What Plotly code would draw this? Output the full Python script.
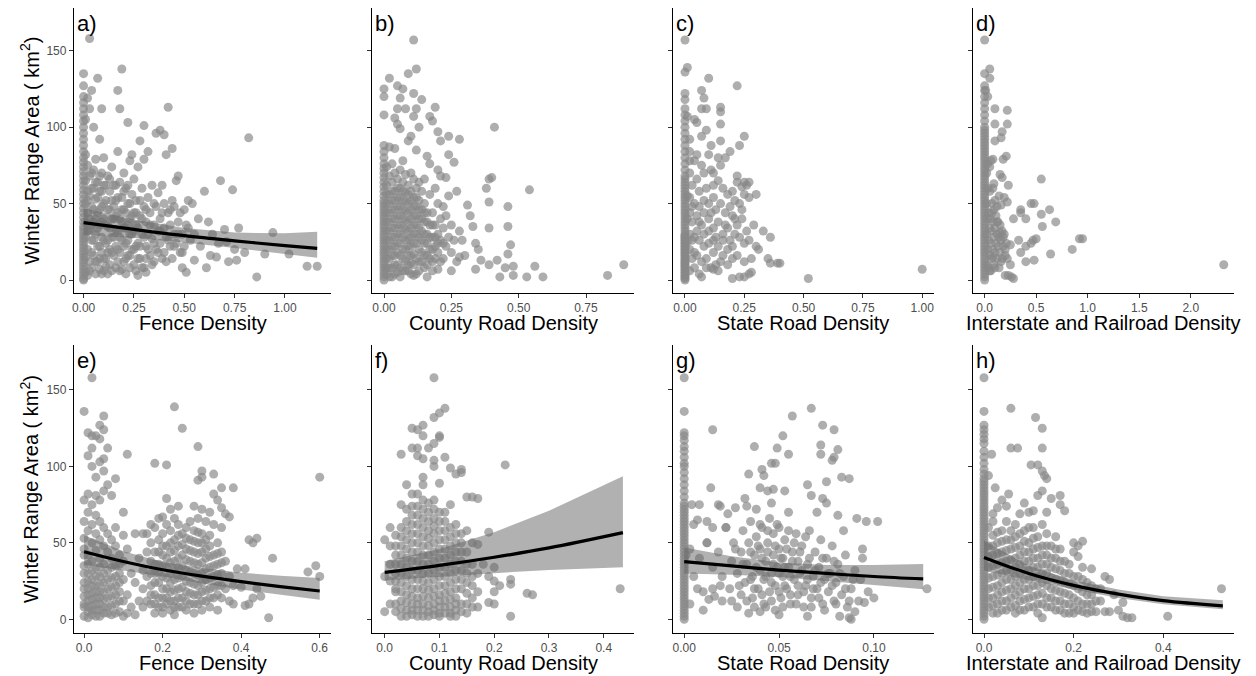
import plotly.graph_objects as go

W, H = 1256, 676
PAGE_OFFSET = 8  # the page body adds an 8 px margin around the figure
FONT = "Liberation Sans, Arial, sans-serif"

Y_TICKS = [0, 50, 100, 150]
Y_TITLE = "Winter Range Area ( km<sup>2</sup>)"
PANEL_LABELS = ["a)", "b)", "c)", "d)", "e)", "f)", "g)", "h)"]
X_TITLES = ["Fence Density", "County Road Density", "State Road Density",
            "Interstate and Railroad Density"] * 2

X_TICKVALS = [
    [0, 0.25, 0.5, 0.75, 1.0], [0, 0.25, 0.5, 0.75], [0, 0.25, 0.5, 0.75, 1.0], [0, 0.5, 1.0, 1.5, 2.0],
    [0, 0.2, 0.4, 0.6], [0, 0.1, 0.2, 0.3, 0.4], [0, 0.05, 0.10], [0, 0.2, 0.4],
]
X_TICKTEXT = [
    ["0.00", "0.25", "0.50", "0.75", "1.00"], ["0.00", "0.25", "0.50", "0.75"],
    ["0.00", "0.25", "0.50", "0.75", "1.00"], ["0.0", "0.5", "1.0", "1.5", "2.0"],
    ["0.0", "0.2", "0.4", "0.6"], ["0.0", "0.1", "0.2", "0.3", "0.4"], ["0.00", "0.05", "0.10"],
    ["0.0", "0.2", "0.4"],
]

# ---------------- Panel a : Fence Density ----------------
A_ZERO_Y = [0, 1, 3, 5, 7, 9, 11, 13, 15, 17, 19, 21, 23, 25, 27, 29, 31, 33, 35, 38, 41, 44, 47, 50,
            53, 56, 59, 62, 65, 68, 71, 74, 77, 80, 84, 88, 92, 96, 100, 104, 108, 112, 116, 120, 127, 135]
A_PTS = [
    (0.01, 5), (0.01, 15), (0.01, 28), (0.01, 38), (0.01, 50), (0.01, 65), (0.01, 82), (0.01, 105),
    (0.02, 3), (0.02, 20), (0.02, 44), (0.02, 58), (0.02, 75), (0.02, 119),
    (0.03, 158), (0.03, 12), (0.03, 33), (0.03, 68), (0.03, 112),
    (0.04, 124), (0.04, 8), (0.04, 26), (0.04, 48), (0.04, 60),
    (0.05, 100), (0.05, 16), (0.05, 38), (0.05, 72),
    (0.06, 4), (0.06, 30), (0.06, 53), (0.06, 79),
    (0.07, 132), (0.07, 12), (0.07, 44), (0.07, 64),
    (0.08, 92), (0.08, 22), (0.08, 36), (0.08, 58), (0.08, 7),
    (0.09, 112), (0.09, 28), (0.09, 48), (0.09, 70),
    (0.10, 80), (0.10, 14), (0.10, 40), (0.10, 62),
    (0.11, 24), (0.11, 52), (0.11, 9), (0.12, 35), (0.12, 68), (0.12, 18),
    (0.13, 46), (0.13, 10), (0.13, 58), (0.14, 28), (0.14, 74),
    (0.15, 40), (0.15, 16), (0.15, 62), (0.16, 22), (0.16, 52), (0.16, 33),
    (0.17, 124), (0.17, 84), (0.17, 44), (0.17, 12), (0.18, 112), (0.18, 64), (0.18, 28),
    (0.19, 138), (0.19, 38), (0.19, 54), (0.19, 7), (0.20, 22), (0.20, 70), (0.20, 46),
    (0.21, 14), (0.21, 34), (0.21, 60), (0.22, 103), (0.22, 26), (0.22, 50),
    (0.23, 40), (0.23, 78), (0.23, 16), (0.24, 82), (0.24, 30), (0.24, 56),
    (0.25, 20), (0.25, 44), (0.25, 66), (0.26, 6), (0.26, 36), (0.26, 52),
    (0.27, 3), (0.27, 24), (0.27, 74), (0.28, 91), (0.28, 42), (0.28, 14),
    (0.29, 30), (0.29, 60), (0.30, 101), (0.30, 79), (0.30, 8), (0.30, 48),
    (0.31, 5), (0.31, 22), (0.31, 38), (0.32, 84), (0.32, 54), (0.32, 30),
    (0.33, 16), (0.33, 44), (0.34, 27), (0.34, 62), (0.35, 36), (0.35, 12),
    (0.36, 96), (0.36, 20), (0.36, 48), (0.37, 32), (0.37, 57),
    (0.38, 98), (0.38, 24), (0.38, 40), (0.39, 14), (0.39, 62),
    (0.40, 95), (0.40, 18), (0.40, 34), (0.40, 50), (0.41, 82), (0.41, 28),
    (0.42, 113), (0.42, 44), (0.43, 22), (0.43, 36), (0.44, 86), (0.44, 52), (0.44, 14),
    (0.45, 30), (0.45, 48), (0.46, 65), (0.46, 24), (0.47, 68), (0.47, 38),
    (0.48, 18), (0.48, 44), (0.49, 8), (0.49, 30), (0.50, 46), (0.50, 22),
    (0.51, 5), (0.52, 52), (0.52, 34), (0.53, 26), (0.54, 50), (0.55, 13), (0.55, 30),
    (0.57, 40), (0.58, 22), (0.60, 58), (0.61, 8), (0.62, 38), (0.63, 16), (0.64, 30),
    (0.66, 15), (0.67, 24), (0.68, 65), (0.70, 33), (0.71, 25), (0.72, 12), (0.74, 59),
    (0.75, 20), (0.76, 13), (0.77, 34), (0.82, 93), (0.80, 18), (0.86, 2), (0.90, 17),
    (0.94, 31), (1.02, 17), (1.11, 9), (1.16, 9),
    (0.02, 32), (0.02, 52), (0.03, 6), (0.03, 40), (0.03, 55), (0.04, 18), (0.04, 36), (0.04, 70),
    (0.05, 26), (0.05, 46), (0.05, 60), (0.06, 12), (0.06, 40), (0.06, 64), (0.07, 22), (0.07, 34),
    (0.07, 54), (0.08, 14), (0.08, 46), (0.08, 68), (0.09, 4), (0.09, 18), (0.09, 38), (0.09, 58),
    (0.10, 6), (0.10, 26), (0.10, 50), (0.11, 14), (0.11, 36), (0.11, 62), (0.12, 4), (0.12, 26),
    (0.12, 46), (0.13, 20), (0.13, 34), (0.13, 66), (0.14, 6), (0.14, 18), (0.14, 40), (0.14, 52),
    (0.15, 28), (0.15, 48), (0.16, 8), (0.16, 42), (0.16, 62), (0.17, 20), (0.17, 32), (0.17, 54),
    (0.18, 6), (0.18, 18), (0.18, 40), (0.19, 26), (0.19, 46), (0.20, 12), (0.20, 34), (0.20, 58),
    (0.21, 4), (0.21, 24), (0.21, 44), (0.22, 16), (0.22, 36), (0.22, 62), (0.23, 8), (0.23, 30),
    (0.23, 50), (0.24, 20), (0.24, 42), (0.25, 10), (0.25, 32), (0.26, 22), (0.26, 44), (0.27, 14),
    (0.27, 34), (0.28, 22), (0.28, 52), (0.29, 8), (0.29, 40), (0.30, 28), (0.31, 14), (0.31, 46),
    (0.32, 20), (0.33, 36), (0.34, 10), (0.35, 24), (0.35, 50), (0.37, 18), (0.38, 32), (0.39, 44),
    (0.41, 12), (0.42, 26), (0.43, 46), (0.45, 22), (0.47, 30), (0.49, 18), (0.51, 36),
]
A_FIT_X = [0.0, 0.25, 0.5, 0.75, 1.0, 1.16]
A_FIT = [37.5, 33.1, 29.0, 25.6, 22.5, 20.7]
A_LO = [29.5, 27.5, 24.5, 21.0, 17.0, 14.5]
A_HI = [47.0, 39.5, 34.0, 31.0, 30.5, 31.5]

# ---------------- Panel b : County Road Density ----------------
B_ZERO_Y = [0, 2, 4, 6, 8, 10, 12, 14, 16, 18, 20, 22, 24, 26, 28, 30, 32, 34, 36, 38, 40, 42, 44, 46,
            48, 50, 52, 55, 58, 61, 64, 67, 70, 73, 76, 80, 84, 88, 108, 120, 125]
B_PTS = [
    (0.01, 4), (0.01, 14), (0.01, 26), (0.01, 38), (0.01, 50), (0.01, 62), (0.01, 74),
    (0.02, 8), (0.02, 20), (0.02, 32), (0.02, 44), (0.02, 56), (0.02, 68), (0.02, 87), (0.02, 132),
    (0.03, 2), (0.03, 16), (0.03, 28), (0.03, 40), (0.03, 52), (0.03, 64), (0.03, 76),
    (0.04, 10), (0.04, 22), (0.04, 34), (0.04, 46), (0.04, 58), (0.04, 70), (0.04, 86), (0.04, 106),
    (0.05, 5), (0.05, 18), (0.05, 30), (0.05, 42), (0.05, 54), (0.05, 66), (0.05, 102), (0.05, 112), (0.05, 127),
    (0.06, 8), (0.06, 24), (0.06, 36), (0.06, 48), (0.06, 60), (0.06, 72), (0.06, 99), (0.06, 119),
    (0.07, 14), (0.07, 28), (0.07, 40), (0.07, 52), (0.07, 64), (0.07, 78), (0.07, 125),
    (0.08, 6), (0.08, 20), (0.08, 33), (0.08, 45), (0.08, 57), (0.08, 69), (0.08, 112),
    (0.09, 6), (0.09, 16), (0.09, 27), (0.09, 38), (0.09, 50), (0.09, 62), (0.09, 91), (0.09, 135),
    (0.10, 11), (0.10, 22), (0.10, 34), (0.10, 46), (0.10, 58), (0.10, 70), (0.10, 94),
    (0.11, 3), (0.11, 17), (0.11, 30), (0.11, 42), (0.11, 54), (0.11, 66), (0.11, 107), (0.11, 122), (0.11, 157),
    (0.12, 4), (0.12, 24), (0.12, 36), (0.12, 48), (0.12, 60), (0.12, 85), (0.12, 112), (0.12, 138),
    (0.13, 12), (0.13, 28), (0.13, 40), (0.13, 52), (0.13, 64), (0.13, 100),
    (0.14, 18), (0.14, 32), (0.14, 46), (0.14, 58), (0.14, 118),
    (0.15, 8), (0.15, 24), (0.15, 38), (0.15, 50), (0.15, 66),
    (0.16, 2), (0.16, 16), (0.16, 30), (0.16, 44), (0.16, 81),
    (0.17, 20), (0.17, 36), (0.17, 56), (0.17, 76), (0.17, 107),
    (0.18, 12), (0.18, 28), (0.18, 44), (0.18, 104),
    (0.19, 22), (0.19, 36), (0.19, 60), (0.19, 113),
    (0.20, 7), (0.20, 18), (0.20, 30), (0.20, 50), (0.20, 72), (0.20, 97),
    (0.21, 26), (0.21, 40), (0.21, 68), (0.21, 91), (0.22, 14), (0.22, 34), (0.22, 48),
    (0.23, 22), (0.23, 42), (0.23, 67), (0.24, 28), (0.24, 55), (0.24, 82), (0.24, 94),
    (0.25, 6), (0.25, 18), (0.25, 36), (0.26, 26), (0.26, 77), (0.27, 12), (0.27, 58),
    (0.28, 15), (0.28, 32), (0.28, 92), (0.29, 26), (0.30, 16), (0.31, 49), (0.32, 42),
    (0.33, 35), (0.34, 24), (0.34, 7), (0.35, 20), (0.36, 13), (0.38, 60), (0.39, 66),
    (0.39, 51), (0.39, 34), (0.39, 10), (0.40, 67), (0.41, 100), (0.42, 13), (0.43, 2),
    (0.45, 8), (0.46, 48), (0.46, 35), (0.46, 17), (0.47, 23), (0.48, 9), (0.48, 3),
    (0.53, 2), (0.54, 59), (0.56, 9), (0.59, 2), (0.83, 3), (0.89, 10),
    (0.01, 8), (0.01, 20), (0.01, 32), (0.01, 44), (0.01, 56), (0.02, 2), (0.02, 14), (0.02, 26),
    (0.02, 38), (0.02, 50), (0.03, 8), (0.03, 22), (0.03, 34), (0.03, 46), (0.03, 58), (0.04, 4),
    (0.04, 16), (0.04, 28), (0.04, 40), (0.04, 52), (0.05, 10), (0.05, 24), (0.05, 36), (0.05, 48),
    (0.05, 60), (0.06, 2), (0.06, 16), (0.06, 30), (0.06, 42), (0.06, 54), (0.07, 6), (0.07, 20),
    (0.07, 34), (0.07, 46), (0.07, 58), (0.08, 12), (0.08, 26), (0.08, 39), (0.08, 51), (0.09, 10),
    (0.09, 22), (0.09, 32), (0.09, 44), (0.09, 56), (0.10, 4), (0.10, 16), (0.10, 28), (0.10, 40),
    (0.10, 52), (0.11, 10), (0.11, 24), (0.11, 36), (0.11, 48), (0.12, 14), (0.12, 30), (0.12, 42),
    (0.12, 54), (0.13, 6), (0.13, 20), (0.13, 34), (0.13, 46), (0.14, 12), (0.14, 26), (0.14, 40),
    (0.15, 16), (0.15, 30), (0.15, 44), (0.16, 10), (0.16, 24), (0.16, 38), (0.17, 14), (0.17, 28),
    (0.18, 6), (0.18, 20), (0.18, 36), (0.19, 14), (0.19, 28), (0.20, 24), (0.21, 12), (0.22, 24),
]

# ---------------- Panel c : State Road Density ----------------
C_ZERO_Y = [0, 1, 2, 3, 4, 5, 6, 7, 8, 9, 10, 11, 12, 13, 14, 15, 16, 17, 18, 19, 20, 21, 22, 23, 24,
            25, 26, 27, 28, 29, 30, 32, 34, 36, 38, 40, 42, 44, 46, 48, 50, 52, 54, 56, 58, 60, 62, 64,
            66, 68, 72, 76, 80, 84, 88, 92, 96, 100, 104, 108, 112, 118, 122, 136, 157]
C_PTS = [
    (0.01, 139), (0.10, 132), (0.22, 127), (0.07, 124), (0.08, 119), (0.07, 112), (0.09, 112),
    (0.15, 113), (0.15, 110), (0.01, 107), (0.04, 105), (0.05, 103), (0.15, 102), (0.09, 98),
    (0.07, 94), (0.25, 94), (0.15, 91), (0.11, 88), (0.23, 88), (0.02, 92),
    (0.02, 84), (0.05, 82), (0.10, 82), (0.14, 80), (0.17, 80), (0.19, 84), (0.02, 78), (0.04, 78),
    (0.07, 75), (0.11, 72), (0.15, 75), (0.08, 70), (0.12, 70), (0.22, 68), (0.26, 62), (0.22, 64),
    (0.25, 64), (0.27, 64), (0.24, 61), (0.30, 56), (0.25, 56), (0.27, 54),
    (0.02, 70), (0.03, 62), (0.05, 66), (0.06, 58), (0.09, 60), (0.12, 62), (0.14, 65), (0.16, 60),
    (0.18, 56), (0.20, 58), (0.21, 52), (0.23, 50), (0.19, 48), (0.24, 46),
    (0.02, 54), (0.04, 50), (0.06, 48), (0.08, 52), (0.10, 50), (0.12, 54), (0.13, 46), (0.15, 50),
    (0.17, 44), (0.20, 42), (0.22, 36), (0.24, 40), (0.26, 32), (0.29, 36),
    (0.02, 44), (0.03, 38), (0.05, 42), (0.07, 36), (0.08, 44), (0.10, 40), (0.12, 34), (0.14, 38),
    (0.16, 30), (0.18, 34), (0.21, 30), (0.23, 28), (0.25, 24), (0.27, 26), (0.30, 22), (0.33, 32),
    (0.36, 28), (0.02, 30), (0.04, 28), (0.06, 26), (0.08, 30), (0.10, 24), (0.12, 26), (0.14, 22),
    (0.16, 26), (0.18, 20), (0.20, 22), (0.22, 16), (0.25, 12), (0.28, 14), (0.31, 20), (0.35, 14),
    (0.36, 11), (0.39, 11), (0.40, 11), (0.02, 20), (0.03, 14), (0.05, 16), (0.07, 12), (0.09, 14),
    (0.11, 8), (0.13, 10), (0.15, 12), (0.18, 10), (0.02, 6), (0.04, 8), (0.06, 4), (0.07, 2),
    (0.12, 7), (0.20, 1), (0.23, 2), (0.25, 2), (0.27, 4), (0.28, 5), (0.52, 1), (1.0, 7),
    (0.01, 40), (0.01, 25), (0.01, 55), (0.03, 48), (0.03, 26), (0.04, 18), (0.05, 32), (0.06, 38),
    (0.08, 22), (0.09, 8), (0.10, 32), (0.11, 44), (0.12, 18), (0.13, 28), (0.14, 6), (0.16, 16),
    (0.17, 36), (0.19, 26), (0.20, 14), (0.21, 40),
]

# ---------------- Panel d : Interstate and Railroad Density ----------------
D_ZERO_Y = [0, 2, 4, 6, 8, 10, 12, 14, 16, 18, 20, 22, 24, 26, 28, 30, 32, 34, 36, 38, 40, 42, 44, 46,
            48, 50, 52, 54, 56, 58, 60, 62, 64, 66, 68, 70, 72, 74, 76, 78, 80, 82, 84, 86, 88, 90, 92,
            94, 96, 98, 100, 104, 108, 112, 116, 120, 124, 127, 135, 157]
D_PTS = [
    (0.05, 138), (0.05, 132), (0.01, 124), (0.03, 120), (0.10, 112), (0.22, 111), (0.10, 102),
    (0.22, 102), (0.17, 97), (0.16, 93), (0.10, 91), (0.21, 81), (0.18, 79), (0.08, 79), (0.03, 76),
    (0.06, 78), (0.05, 74), (0.15, 69), (0.17, 67), (0.09, 63), (0.23, 62), (0.55, 66), (0.08, 60),
    (0.14, 55), (0.19, 54), (0.05, 58), (0.10, 52), (0.22, 51), (0.12, 48), (0.16, 49), (0.45, 50),
    (0.48, 50), (0.35, 46), (0.63, 46), (0.35, 44), (0.55, 43), (0.28, 40), (0.40, 40), (0.69, 38),
    (0.56, 35), (0.10, 34), (0.15, 31), (0.18, 28), (0.50, 27), (0.47, 26), (0.33, 26), (0.92, 27),
    (0.95, 27), (0.25, 23), (0.40, 22), (0.45, 24), (0.85, 20), (0.35, 18), (0.20, 20), (0.64, 17),
    (0.48, 13), (0.40, 12), (0.22, 14), (0.25, 10), (2.32, 10), (0.20, 3), (0.23, 3), (0.26, 2),
    (0.28, 1), (0.05, 6), (0.08, 15), (0.12, 38), (0.13, 22), (0.07, 44), (0.10, 8), (0.16, 12),
    (0.02, 10), (0.02, 30), (0.02, 50), (0.02, 70), (0.03, 20), (0.03, 40), (0.03, 60), (0.04, 8),
    (0.04, 26), (0.04, 44), (0.05, 16), (0.05, 34), (0.06, 6), (0.06, 24), (0.06, 40), (0.07, 14),
    (0.07, 32), (0.07, 50), (0.08, 20), (0.08, 38), (0.09, 10), (0.09, 28), (0.09, 46), (0.10, 18),
    (0.11, 24), (0.11, 42), (0.12, 14), (0.12, 30), (0.13, 38), (0.14, 8), (0.14, 28), (0.15, 18),
    (0.15, 36), (0.16, 26), (0.17, 14), (0.17, 32), (0.18, 22), (0.19, 30), (0.20, 16), (0.21, 24),
]

# ---------------- Panel e : Fence Density ----------------
E_PTS = [
    (0.00, 2), (0.00, 8), (0.00, 15), (0.00, 24), (0.00, 35), (0.00, 46), (0.00, 53), (0.00, 64), (0.00, 78), (0.00, 136),
    (0.01, 1), (0.01, 5), (0.01, 12), (0.01, 20), (0.01, 30), (0.01, 42), (0.01, 58), (0.01, 70), (0.01, 82), (0.01, 107), (0.01, 122),
    (0.02, 3), (0.02, 9), (0.02, 17), (0.02, 26), (0.02, 38), (0.02, 50), (0.02, 62), (0.02, 75), (0.02, 100), (0.02, 112), (0.02, 120), (0.02, 158),
    (0.03, 6), (0.03, 14), (0.03, 22), (0.03, 33), (0.03, 45), (0.03, 56), (0.03, 68), (0.03, 81), (0.03, 93), (0.03, 120),
    (0.04, 2), (0.04, 10), (0.04, 18), (0.04, 28), (0.04, 40), (0.04, 52), (0.04, 64), (0.04, 78), (0.04, 103), (0.04, 118), (0.04, 127),
    (0.05, 4), (0.05, 13), (0.05, 24), (0.05, 36), (0.05, 48), (0.05, 60), (0.05, 84), (0.05, 97), (0.05, 105), (0.05, 124), (0.05, 133),
    (0.06, 8), (0.06, 20), (0.06, 32), (0.06, 44), (0.06, 56), (0.06, 88), (0.06, 112),
    (0.07, 3), (0.07, 15), (0.07, 27), (0.07, 40), (0.07, 52), (0.07, 81),
    (0.08, 10), (0.08, 22), (0.08, 35), (0.08, 48), (0.08, 92), (0.08, 60),
    (0.09, 5), (0.09, 18), (0.09, 30), (0.09, 42), (0.10, 2), (0.10, 12), (0.10, 26), (0.10, 38), (0.10, 70), (0.10, 55),
    (0.11, 4), (0.11, 16), (0.11, 108), (0.11, 46), (0.12, 8), (0.12, 30), (0.13, 3), (0.13, 24), (0.13, 56), (0.14, 40), (0.14, 12),
    (0.15, 8), (0.15, 20), (0.15, 32), (0.15, 56), (0.16, 12), (0.16, 28), (0.16, 44), (0.16, 56),
    (0.17, 10), (0.17, 22), (0.17, 38), (0.17, 50), (0.17, 62),
    (0.18, 4), (0.18, 16), (0.18, 30), (0.18, 44), (0.18, 60), (0.18, 102),
    (0.19, 8), (0.19, 24), (0.19, 36), (0.19, 52), (0.19, 66),
    (0.20, 4), (0.20, 14), (0.20, 28), (0.20, 42), (0.20, 56), (0.20, 67),
    (0.21, 10), (0.21, 20), (0.21, 34), (0.21, 48), (0.21, 62), (0.21, 79), (0.21, 101),
    (0.22, 6), (0.22, 18), (0.22, 30), (0.22, 44), (0.22, 58), (0.22, 72),
    (0.23, 3), (0.23, 12), (0.23, 26), (0.23, 38), (0.23, 52), (0.23, 66), (0.23, 139),
    (0.24, 8), (0.24, 20), (0.24, 34), (0.24, 48), (0.24, 62), (0.24, 74),
    (0.25, 14), (0.25, 28), (0.25, 42), (0.25, 56), (0.25, 125),
    (0.26, 6), (0.26, 18), (0.26, 32), (0.26, 46), (0.26, 60),
    (0.27, 10), (0.27, 24), (0.27, 38), (0.27, 52), (0.27, 64),
    (0.28, 4), (0.28, 16), (0.28, 30), (0.28, 44), (0.28, 58), (0.28, 74),
    (0.29, 10), (0.29, 22), (0.29, 36), (0.29, 50), (0.29, 66), (0.29, 91), (0.29, 113),
    (0.30, 6), (0.30, 18), (0.30, 30), (0.30, 44), (0.30, 56), (0.30, 72), (0.30, 93), (0.30, 97),
    (0.31, 12), (0.31, 26), (0.31, 40), (0.31, 52), (0.31, 64),
    (0.32, 8), (0.32, 20), (0.32, 34), (0.32, 48), (0.32, 70),
    (0.33, 14), (0.33, 28), (0.33, 42), (0.33, 62), (0.33, 82), (0.33, 95),
    (0.34, 6), (0.34, 22), (0.34, 36), (0.34, 50), (0.34, 78),
    (0.35, 14), (0.35, 30), (0.35, 44), (0.35, 60), (0.35, 73), (0.35, 86),
    (0.36, 20), (0.36, 38), (0.36, 69), (0.37, 12), (0.37, 28), (0.37, 67), (0.38, 10), (0.38, 22), (0.38, 86),
    (0.39, 33), (0.40, 21), (0.41, 9), (0.41, 33), (0.42, 10), (0.42, 52), (0.43, 14), (0.43, 50),
    (0.44, 20), (0.44, 53), (0.45, 15), (0.47, 1), (0.48, 40), (0.57, 31), (0.59, 35), (0.60, 93), (0.60, 28),
    (0.00, 10), (0.00, 20), (0.00, 30), (0.00, 42), (0.01, 8), (0.01, 16), (0.01, 25), (0.01, 36),
    (0.02, 6), (0.02, 13), (0.02, 22), (0.02, 32), (0.03, 2), (0.03, 10), (0.03, 18), (0.03, 28),
    (0.04, 6), (0.04, 14), (0.04, 23), (0.04, 34), (0.05, 8), (0.05, 18), (0.05, 30), (0.06, 4),
    (0.06, 14), (0.06, 26), (0.07, 9), (0.07, 21), (0.07, 34), (0.08, 4), (0.08, 16), (0.08, 28),
    (0.09, 12), (0.09, 24), (0.09, 36),
    (0.17, 16), (0.17, 30), (0.18, 10), (0.18, 24), (0.18, 36), (0.19, 14), (0.19, 30), (0.19, 44),
    (0.20, 8), (0.20, 20), (0.20, 35), (0.20, 48), (0.21, 14), (0.21, 27), (0.21, 40), (0.22, 12),
    (0.22, 24), (0.22, 37), (0.22, 50), (0.23, 8), (0.23, 19), (0.23, 32), (0.23, 45), (0.24, 14),
    (0.24, 27), (0.24, 40), (0.24, 55), (0.25, 8), (0.25, 21), (0.25, 35), (0.25, 49), (0.26, 12),
    (0.26, 25), (0.26, 39), (0.26, 53), (0.27, 17), (0.27, 31), (0.27, 45), (0.28, 10), (0.28, 23),
    (0.28, 37), (0.28, 51), (0.29, 16), (0.29, 29), (0.29, 43), (0.29, 57), (0.30, 12), (0.30, 24),
    (0.30, 37), (0.30, 50), (0.31, 19), (0.31, 33), (0.31, 46), (0.32, 14), (0.32, 27), (0.32, 41),
    (0.32, 55), (0.33, 21), (0.33, 35), (0.34, 16), (0.34, 29), (0.34, 43), (0.35, 22), (0.35, 37),
]
E_FIT_X = [0.0, 0.1, 0.2, 0.3, 0.4, 0.5, 0.6]
E_FIT = [44.2, 37.8, 32.4, 28.2, 24.6, 21.4, 18.5]
E_LO = [35.5, 32.0, 28.0, 23.5, 19.5, 16.0, 12.8]
E_HI = [55.0, 44.5, 37.5, 33.5, 30.5, 28.5, 27.0]

# ---------------- Panel f : County Road Density ----------------
F_PTS = [
    (0.00, 5), (0.00, 28), (0.00, 52), (0.01, 10), (0.01, 25), (0.01, 36), (0.01, 48), (0.01, 60),
    (0.02, 5), (0.02, 18), (0.02, 30), (0.02, 42), (0.02, 55), (0.02, 20),
    (0.03, 2), (0.03, 12), (0.03, 24), (0.03, 36), (0.03, 48), (0.03, 60), (0.03, 75), (0.03, 108),
    (0.04, 6), (0.04, 16), (0.04, 28), (0.04, 40), (0.04, 52), (0.04, 64), (0.04, 72), (0.04, 88),
    (0.05, 3), (0.05, 10), (0.05, 20), (0.05, 32), (0.05, 44), (0.05, 56), (0.05, 68), (0.05, 82), (0.05, 112), (0.05, 125),
    (0.06, 6), (0.06, 14), (0.06, 26), (0.06, 38), (0.06, 50), (0.06, 62), (0.06, 74), (0.06, 82), (0.06, 107), (0.06, 112), (0.06, 124),
    (0.07, 2), (0.07, 10), (0.07, 20), (0.07, 30), (0.07, 42), (0.07, 54), (0.07, 66), (0.07, 78), (0.07, 88), (0.07, 93), (0.07, 105), (0.07, 120), (0.07, 127),
    (0.08, 5), (0.08, 14), (0.08, 24), (0.08, 36), (0.08, 48), (0.08, 58), (0.08, 70), (0.08, 112),
    (0.09, 3), (0.09, 10), (0.09, 20), (0.09, 32), (0.09, 44), (0.09, 56), (0.09, 66), (0.09, 78), (0.09, 100), (0.09, 104), (0.09, 115), (0.09, 132), (0.09, 158),
    (0.10, 2), (0.10, 8), (0.10, 16), (0.10, 28), (0.10, 40), (0.10, 52), (0.10, 64), (0.10, 89), (0.10, 119), (0.10, 120), (0.10, 135),
    (0.11, 4), (0.11, 12), (0.11, 22), (0.11, 34), (0.11, 46), (0.11, 58), (0.11, 70), (0.11, 106), (0.11, 138),
    (0.12, 2), (0.12, 8), (0.12, 18), (0.12, 30), (0.12, 42), (0.12, 54), (0.12, 75), (0.12, 99),
    (0.13, 6), (0.13, 14), (0.13, 26), (0.13, 38), (0.13, 50), (0.13, 62), (0.13, 95),
    (0.14, 5), (0.14, 20), (0.14, 32), (0.14, 44), (0.14, 56), (0.14, 96), (0.14, 98),
    (0.15, 10), (0.15, 24), (0.15, 36), (0.15, 80), (0.16, 8), (0.16, 22), (0.16, 36), (0.16, 80),
    (0.17, 18), (0.17, 49), (0.17, 79), (0.18, 36), (0.19, 11), (0.19, 28), (0.19, 57),
    (0.20, 10), (0.20, 18), (0.20, 25), (0.20, 34), (0.21, 22), (0.22, 101), (0.23, 2), (0.23, 23),
    (0.23, 26), (0.26, 17), (0.27, 16), (0.43, 20),
    (0.02, 10), (0.02, 25), (0.02, 36), (0.02, 48), (0.03, 7), (0.03, 18), (0.03, 30), (0.03, 42),
    (0.03, 54), (0.04, 2), (0.04, 11), (0.04, 22), (0.04, 34), (0.04, 46), (0.04, 58), (0.05, 6),
    (0.05, 15), (0.05, 26), (0.05, 38), (0.05, 50), (0.05, 62), (0.05, 74), (0.06, 2), (0.06, 10),
    (0.06, 20), (0.06, 32), (0.06, 44), (0.06, 56), (0.06, 68), (0.07, 6), (0.07, 15), (0.07, 25),
    (0.07, 36), (0.07, 48), (0.07, 60), (0.07, 72), (0.08, 2), (0.08, 9), (0.08, 19), (0.08, 30),
    (0.08, 42), (0.08, 53), (0.08, 64), (0.08, 76), (0.09, 6), (0.09, 15), (0.09, 26), (0.09, 38),
    (0.09, 50), (0.09, 61), (0.09, 72), (0.10, 4), (0.10, 12), (0.10, 22), (0.10, 34), (0.10, 46),
    (0.10, 58), (0.10, 70), (0.11, 8), (0.11, 17), (0.11, 28), (0.11, 40), (0.11, 52), (0.11, 64),
    (0.12, 4), (0.12, 13), (0.12, 24), (0.12, 36), (0.12, 48), (0.12, 60), (0.13, 2), (0.13, 10),
    (0.13, 20), (0.13, 32), (0.13, 44), (0.13, 56), (0.14, 10), (0.14, 26), (0.14, 38), (0.14, 50),
    (0.15, 4), (0.15, 17), (0.15, 30), (0.15, 44), (0.15, 58), (0.16, 14), (0.16, 28), (0.16, 50),
    (0.17, 8), (0.17, 30),
]
F_FIT_X = [0.0, 0.1, 0.2, 0.3, 0.435]
F_FIT = [30.7, 35.3, 40.6, 46.7, 56.7]
F_LO = [25.3, 27.8, 30.2, 32.2, 34.0]
F_HI = [38.0, 46.0, 57.0, 71.0, 93.5]

# ---------------- Panel g : State Road Density ----------------
G_ZERO_Y = [0, 2, 4, 6, 8, 10, 12, 14, 16, 18, 20, 22, 24, 26, 28, 30, 32, 34, 36, 38, 40, 42, 44, 46,
            48, 50, 52, 54, 56, 58, 60, 62, 64, 66, 68, 70, 72, 74, 76, 80, 84, 88, 92, 96, 100, 102,
            106, 110, 113, 117, 120, 122, 136, 158]
G_PTS = [
    (0.067, 138), (0.057, 133), (0.073, 127), (0.015, 124), (0.079, 124), (0.052, 120), (0.037, 113),
    (0.049, 112), (0.072, 114), (0.081, 111), (0.055, 108), (0.072, 108), (0.078, 104), (0.079, 106),
    (0.046, 102), (0.048, 102), (0.041, 98), (0.034, 95), (0.042, 94), (0.083, 93), (0.087, 92),
    (0.075, 90), (0.065, 88), (0.014, 86), (0.040, 86), (0.044, 84), (0.047, 85), (0.053, 84),
    (0.073, 79), (0.067, 81), (0.032, 79), (0.075, 76), (0.033, 74), (0.046, 76), (0.004, 75),
    (0.008, 75), (0.018, 75), (0.019, 74), (0.027, 73), (0.023, 69), (0.038, 72), (0.070, 70),
    (0.081, 68), (0.091, 66), (0.096, 64), (0.102, 64), (0.012, 64), (0.007, 65), (0.022, 60),
    (0.015, 60), (0.084, 58), (0.094, 46), (0.012, 50), (0.001, 42),
    (0.100, 14), (0.095, 11), (0.090, 5), (0.087, 1), (0.088, 0), (0.082, 2), (0.065, 2), (0.050, 3),
    (0.040, 5), (0.128, 20), (0.016, 15), (0.013, 13), (0.007, 20), (0.003, 10), (0.019, 22),
    (0.005, 28), (0.008, 40), (0.010, 18), (0.012, 50), (0.015, 34), (0.018, 44), (0.020, 12),
    (0.020, 28), (0.022, 60), (0.024, 20), (0.025, 38), (0.026, 50), (0.028, 8), (0.028, 30),
    (0.030, 16), (0.030, 44), (0.031, 58), (0.032, 24), (0.033, 36), (0.034, 4), (0.034, 50),
    (0.035, 64), (0.036, 14), (0.036, 28), (0.037, 42), (0.038, 54), (0.039, 20), (0.040, 32),
    (0.040, 46), (0.041, 60), (0.042, 10), (0.042, 26), (0.043, 38), (0.044, 50), (0.045, 66),
    (0.045, 18), (0.046, 30), (0.047, 42), (0.047, 56), (0.048, 6), (0.048, 22), (0.049, 34),
    (0.050, 46), (0.050, 60), (0.051, 14), (0.052, 28), (0.052, 40), (0.053, 52), (0.054, 20),
    (0.055, 34), (0.055, 70), (0.056, 10), (0.057, 44), (0.058, 26), (0.059, 56), (0.060, 16),
    (0.060, 38), (0.061, 30), (0.062, 48), (0.063, 8), (0.064, 22), (0.065, 36), (0.066, 58),
    (0.067, 14), (0.068, 28), (0.069, 44), (0.070, 20), (0.071, 34), (0.072, 52), (0.073, 10),
    (0.074, 26), (0.075, 40), (0.076, 18), (0.077, 30), (0.078, 48), (0.079, 12), (0.080, 24),
    (0.081, 36), (0.083, 16), (0.084, 28), (0.085, 42), (0.086, 8), (0.088, 20), (0.090, 32),
    (0.092, 12), (0.093, 26), (0.094, 40), (0.097, 18), (0.010, 6), (0.015, 20), (0.005, 62), (0.003, 46),
    (0.025, 12), (0.027, 46), (0.029, 22), (0.031, 36), (0.033, 12), (0.035, 26), (0.035, 44),
    (0.037, 8), (0.037, 20), (0.038, 34), (0.039, 48), (0.040, 62), (0.041, 16), (0.041, 40),
    (0.043, 8), (0.043, 28), (0.044, 44), (0.044, 58), (0.046, 12), (0.046, 24), (0.047, 36),
    (0.048, 48), (0.049, 62), (0.050, 18), (0.050, 30), (0.051, 40), (0.052, 8), (0.053, 22),
    (0.053, 34), (0.054, 46), (0.055, 58), (0.056, 16), (0.056, 28), (0.057, 38), (0.058, 50),
    (0.059, 10), (0.060, 22), (0.061, 44), (0.062, 32), (0.063, 18), (0.064, 54), (0.065, 26),
    (0.066, 40), (0.067, 8), (0.068, 20), (0.069, 32), (0.071, 14), (0.072, 24), (0.073, 40),
    (0.074, 6), (0.076, 30), (0.078, 22), (0.079, 38), (0.080, 10), (0.082, 30), (0.085, 20),
    (0.087, 12), (0.089, 26),
]
G_FIT_X = [0.0, 0.025, 0.05, 0.075, 0.1, 0.126]
G_FIT = [37.7, 34.9, 32.2, 30.0, 28.0, 26.4]
G_LO = [30.0, 29.2, 27.6, 25.2, 22.5, 19.6]
G_HI = [47.0, 41.3, 37.2, 35.5, 35.5, 36.2]

# ---------------- Panel h : Interstate and Railroad Density ----------------
H_ZERO_Y = [0, 2, 4, 6, 8, 10, 12, 14, 16, 18, 20, 22, 24, 26, 28, 30, 32, 34, 36, 38, 40, 42, 44, 46,
            48, 50, 52, 54, 56, 58, 60, 62, 64, 66, 68, 70, 72, 74, 76, 78, 80, 82, 84, 86, 88, 90, 92,
            95, 98, 102, 106, 110, 115, 118, 121, 124, 127, 136, 158]
H_PTS = [
    (0.01, 8), (0.01, 20), (0.01, 34), (0.01, 48), (0.01, 60), (0.01, 94),
    (0.02, 4), (0.02, 14), (0.02, 28), (0.02, 42), (0.02, 55), (0.02, 64), (0.02, 69),
    (0.03, 10), (0.03, 22), (0.03, 36), (0.03, 50), (0.03, 73),
    (0.04, 6), (0.04, 18), (0.04, 30), (0.04, 44), (0.04, 58), (0.04, 78),
    (0.05, 12), (0.05, 26), (0.05, 38), (0.05, 52), (0.05, 64), (0.05, 74),
    (0.06, 8), (0.06, 20), (0.06, 32), (0.06, 46), (0.06, 58), (0.06, 112), (0.06, 138),
    (0.07, 4), (0.07, 16), (0.07, 28), (0.07, 40), (0.07, 54), (0.07, 62),
    (0.08, 12), (0.08, 24), (0.08, 36), (0.08, 48), (0.08, 69),
    (0.09, 6), (0.09, 20), (0.09, 32), (0.09, 44), (0.09, 58), (0.09, 76),
    (0.10, 14), (0.10, 26), (0.10, 38), (0.10, 50), (0.10, 70),
    (0.11, 8), (0.11, 22), (0.11, 34), (0.11, 46), (0.11, 60), (0.11, 71),
    (0.12, 4), (0.12, 16), (0.12, 28), (0.12, 40), (0.12, 54), (0.12, 81), (0.12, 101),
    (0.13, 1), (0.13, 10), (0.13, 24), (0.13, 36), (0.13, 48), (0.13, 62), (0.13, 84), (0.13, 97), (0.13, 112), (0.13, 125),
    (0.14, 14), (0.14, 30), (0.14, 42), (0.14, 56), (0.14, 70), (0.135, 94), (0.14, 92),
    (0.15, 8), (0.15, 20), (0.15, 34), (0.15, 48), (0.15, 79), (0.115, 132), (0.105, 101),
    (0.075, 112), (0.017, 108), (0.025, 86), (0.055, 82),
    (0.16, 12), (0.16, 26), (0.16, 40), (0.16, 54), (0.17, 6), (0.17, 18), (0.17, 32), (0.17, 46),
    (0.17, 75), (0.17, 81), (0.18, 10), (0.18, 24), (0.18, 38), (0.18, 71),
    (0.19, 4), (0.19, 16), (0.19, 30), (0.19, 36), (0.20, 8), (0.20, 22), (0.20, 44), (0.20, 50),
    (0.20, 4), (0.21, 12), (0.21, 28), (0.21, 41), (0.21, 48), (0.22, 5), (0.22, 18), (0.22, 34),
    (0.22, 51), (0.23, 10), (0.23, 24), (0.24, 5), (0.24, 16), (0.24, 33), (0.25, 5), (0.25, 20),
    (0.26, 12), (0.26, 20), (0.27, 5), (0.27, 28), (0.28, 5), (0.28, 26), (0.29, 16), (0.30, 6),
    (0.31, 2), (0.31, 11), (0.32, 1), (0.33, 1), (0.41, 2), (0.53, 20),
    (0.01, 14), (0.01, 27), (0.01, 41), (0.02, 9), (0.02, 21), (0.02, 35), (0.02, 48), (0.03, 4),
    (0.03, 16), (0.03, 29), (0.03, 43), (0.03, 57), (0.04, 12), (0.04, 24), (0.04, 37), (0.04, 51),
    (0.05, 6), (0.05, 19), (0.05, 32), (0.05, 45), (0.06, 14), (0.06, 26), (0.06, 39), (0.06, 52),
    (0.07, 9), (0.07, 22), (0.07, 34), (0.07, 47), (0.08, 6), (0.08, 18), (0.08, 30), (0.08, 42),
    (0.08, 56), (0.09, 13), (0.09, 26), (0.09, 38), (0.09, 51), (0.10, 8), (0.10, 20), (0.10, 32),
    (0.10, 44), (0.10, 60), (0.11, 15), (0.11, 28), (0.11, 40), (0.11, 53), (0.12, 10), (0.12, 22),
    (0.12, 34), (0.12, 47), (0.13, 17), (0.13, 30), (0.13, 42), (0.14, 8), (0.14, 22), (0.14, 36),
    (0.14, 48), (0.15, 14), (0.15, 27), (0.15, 40), (0.16, 6), (0.16, 19), (0.16, 33), (0.16, 46),
    (0.17, 12), (0.17, 25), (0.17, 38), (0.18, 4), (0.18, 17), (0.18, 30), (0.19, 10), (0.19, 23),
    (0.20, 14), (0.20, 28), (0.21, 6), (0.21, 20), (0.22, 10), (0.22, 26), (0.23, 4), (0.23, 16),
    (0.24, 10), (0.24, 22), (0.25, 12),
]
H_FIT_X = [0.0, 0.1, 0.2, 0.3, 0.4, 0.533]
H_FIT = [40.5, 30.0, 22.2, 16.5, 12.2, 8.8]
H_LO = [32.0, 25.5, 19.5, 14.0, 9.8, 6.5]
H_HI = [51.5, 35.0, 25.5, 19.5, 15.0, 12.5]

# ---------------- assemble ----------------
PANELS = [
    (A_ZERO_Y, A_PTS, (A_FIT_X, A_FIT, A_LO, A_HI)),
    (B_ZERO_Y, B_PTS, None),
    (C_ZERO_Y, C_PTS, None),
    (D_ZERO_Y, D_PTS, None),
    ([], E_PTS, (E_FIT_X, E_FIT, E_LO, E_HI)),
    ([], F_PTS, (F_FIT_X, F_FIT, F_LO, F_HI)),
    (G_ZERO_Y, G_PTS, (G_FIT_X, G_FIT, G_LO, G_HI)),
    (H_ZERO_Y, H_PTS, (H_FIT_X, H_FIT, H_LO, H_HI)),
]

# layout geometry (screen pixels of the reference)
COL_X = [(72, 330), (371, 632.7), (671.7, 933.3), (972.2, 1234)]
ROW_Y = [(8, 293), (345, 633)]          # top / bottom of each panel row
ROW_ZERO = [280.0, 619.3]               # pixel of y = 0 in each row
Y_SCALE = 1.5287                        # pixels per km^2
X_RANGES = [[-0.048, 1.231], [-0.043, 0.927], [-0.052, 1.049], [-0.116, 2.42],
            [-0.026, 0.630], [-0.0224, 0.4547], [-0.0061, 0.1316], [-0.0253, 0.558]]

POINT_COLOR = "rgba(135,135,135,0.68)"
RIBBON_COLOR = "rgba(100,100,100,0.5)"


def px_x(p):
    return min(1.0, max(0.0, (p - PAGE_OFFSET) / W))


def px_y(p):
    return min(1.0, max(0.0, 1 - (p - PAGE_OFFSET) / H))


fig = go.Figure()
annotations = []
layout = {}

for i, (zero_y, pts, fit) in enumerate(PANELS):
    n = i + 1
    suffix = "" if n == 1 else str(n)
    row, col = divmod(i, 4)
    xs = [0.0] * len(zero_y) + [p[0] for p in pts]
    ys = list(zero_y) + [p[1] for p in pts]
    fig.add_trace(go.Scatter(
        x=xs, y=ys, mode="markers", xaxis="x" + suffix, yaxis="y" + suffix,
        marker=dict(size=9, color=POINT_COLOR, line=dict(width=0)),
        showlegend=False, hoverinfo="skip"))
    if fit is not None:
        fx, fy, lo, hi = fit
        fig.add_trace(go.Scatter(
            x=list(fx) + list(fx)[::-1], y=list(lo) + list(hi)[::-1],
            mode="lines", fill="toself", fillcolor=RIBBON_COLOR,
            line=dict(width=0), xaxis="x" + suffix, yaxis="y" + suffix,
            showlegend=False, hoverinfo="skip"))
        fig.add_trace(go.Scatter(
            x=fx, y=fy, mode="lines", line=dict(color="black", width=3.2, shape="spline"),
            xaxis="x" + suffix, yaxis="y" + suffix, showlegend=False, hoverinfo="skip"))

    x0, x1 = COL_X[col]
    ytop, ybot = ROW_Y[row]
    xdom = [px_x(x0), px_x(x1)]
    ydom = [px_y(ybot), px_y(ytop)]
    yrange = [(ROW_ZERO[row] - ybot) / Y_SCALE, (ROW_ZERO[row] - ytop) / Y_SCALE]
    layout["xaxis" + suffix] = dict(
        domain=xdom, range=X_RANGES[i], anchor="y" + suffix,
        showline=True, linecolor="black", linewidth=1.1, showgrid=False, zeroline=False,
        ticks="outside", ticklen=4, tickcolor="#333333", tickwidth=1,
        tickvals=X_TICKVALS[i], ticktext=X_TICKTEXT[i],
        tickfont=dict(family=FONT, size=12, color="#4D4D4D"))
    layout["yaxis" + suffix] = dict(
        domain=ydom, range=yrange, anchor="x" + suffix,
        showline=True, linecolor="black", linewidth=1.1, showgrid=False, zeroline=False,
        ticks="outside", ticklen=4, tickcolor="#333333", tickwidth=1,
        tickvals=Y_TICKS, ticktext=[str(v) for v in Y_TICKS], showticklabels=(col == 0),
        tickfont=dict(family=FONT, size=12, color="#4D4D4D"))

    annotations.append(dict(
        text=PANEL_LABELS[i], xref="paper", yref="paper", x=xdom[0], y=px_y(5),
        xanchor="left", yanchor="top", xshift=1, yshift=-1 if row == 0 else -1 - (ROW_Y[1][0] - 5 - 340) * 0,
        showarrow=False, font=dict(family=FONT, size=22, color="black")) if row == 0 else dict(
        text=PANEL_LABELS[i], xref="paper", yref="paper", x=xdom[0], y=ydom[1],
        xanchor="left", yanchor="top", xshift=1, yshift=-1, showarrow=False,
        font=dict(family=FONT, size=22, color="black")))
    annotations.append(dict(
        text=X_TITLES[i], xref="paper", yref="paper", x=(xdom[0] + xdom[1]) / 2, y=ydom[0],
        xanchor="center", yanchor="middle", yshift=-30, showarrow=False,
        font=dict(family=FONT, size=20, color="black")))
    if col == 0:
        annotations.append(dict(
            text=Y_TITLE, xref="paper", yref="paper", x=px_x(28),
            y=(px_y(ROW_Y[row][0] - (3 if row == 0 else 0)) + ydom[0]) / 2,
            xanchor="center", yanchor="middle", textangle=-90, showarrow=False,
            font=dict(family=FONT, size=20, color="black")))

fig.update_layout(
    width=W, height=H, margin=dict(l=0, r=0, t=0, b=0),
    paper_bgcolor="white", plot_bgcolor="white",
    annotations=annotations, showlegend=False, **layout)

fig.write_html("out.html")
